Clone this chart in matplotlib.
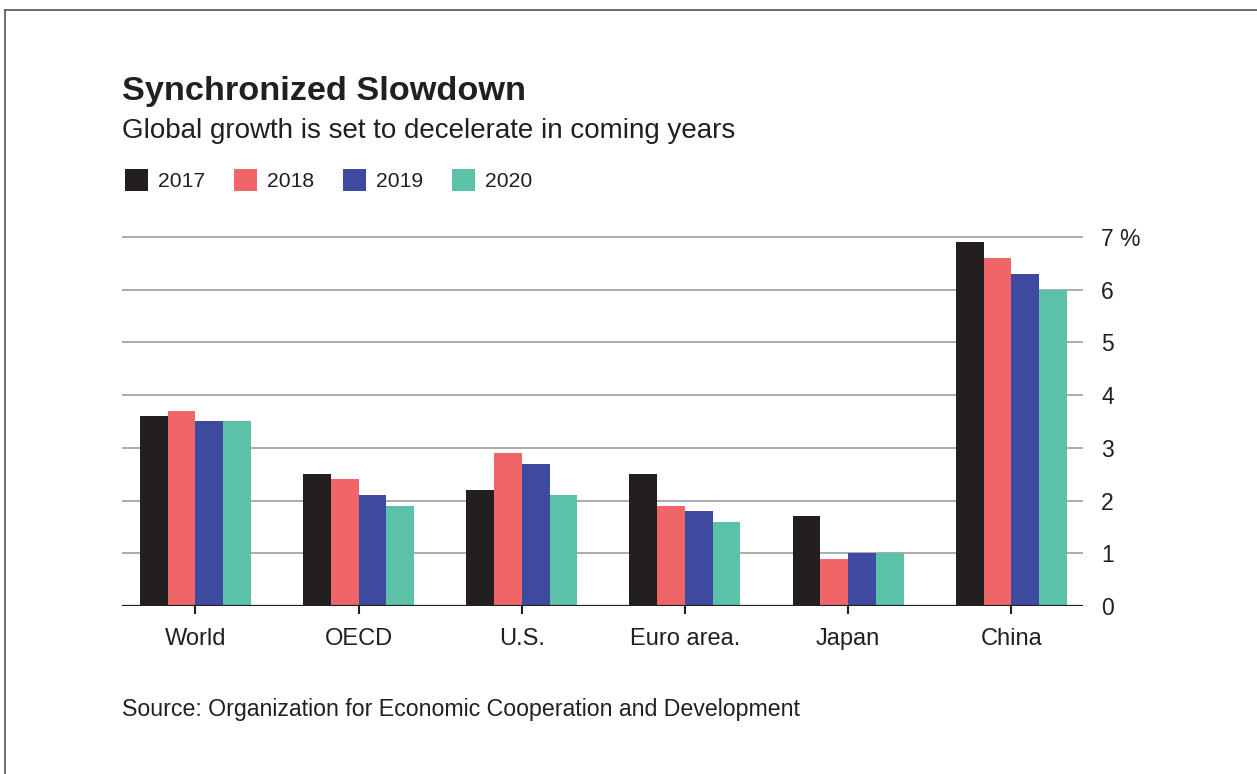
import matplotlib.pyplot as plt
import numpy as np
from matplotlib.lines import Line2D

plt.rcParams['font.family'] = ['Liberation Sans', 'DejaVu Sans']

regions = ['World', 'OECD', 'U.S.', 'Euro area.', 'Japan', 'China']
years = ['2017', '2018', '2019', '2020']
g2017 = [3.6, 2.5, 2.2, 2.5, 1.7, 6.9]
g2018 = [3.7, 2.4, 2.9, 1.9, 0.9, 6.6]
g2019 = [3.5, 2.1, 2.7, 1.8, 1.0, 6.3]
g2020 = [3.5, 1.9, 2.1, 1.6, 1.0, 6.0]
yticks = [0, 1, 2, 3, 4, 5, 6, 7]
ylabels = ['0', '1', '2', '3', '4', '5', '6', '7 %']

colors = ['#231f20', '#f06567', '#3e4a9f', '#5bc2a7']
series = [g2017, g2018, g2019, g2020]

fig = plt.figure(figsize=(12.57, 7.74), dpi=100)
ax = fig.add_axes([0.0971, 0.2171, 0.7645, 0.4801])

x = np.arange(len(regions))
w = 0.17
handles = []
for i, (vals, c, yr) in enumerate(zip(series, colors, years)):
    b = ax.bar(x + (i - 1.5) * w, vals, width=w, color=c, label=yr, zorder=2)
    handles.append(b)

ax.set_xlim(-0.45, 5.44)
ax.set_ylim(0, 7.05)
ax.set_yticks(yticks)
ax.set_yticklabels(ylabels)
ax.yaxis.tick_right()
ax.grid(axis='y', color='#939598', linewidth=1.1, zorder=0)
ax.set_axisbelow(True)
ax.axhline(0, color='#231f20', linewidth=1.6, zorder=3)
for s in ax.spines.values():
    s.set_visible(False)
ax.tick_params(axis='y', length=0, pad=13, labelsize=16.5, labelcolor='#231f20')
ax.set_xticks(x)
ax.set_xticklabels(regions)
ax.tick_params(axis='x', length=6, width=1.5, color='#231f20', direction='out',
               pad=10, labelsize=17, labelcolor='#231f20')

fig.text(0.0971, 0.8708, 'Synchronized Slowdown', fontsize=24.7, fontweight='bold',
         color='#231f20', va='baseline')
fig.text(0.0971, 0.8217, 'Global growth is set to decelerate in coming years',
         fontsize=20, color='#231f20', va='baseline')
fig.text(0.0971, 0.075, 'Source: Organization for Economic Cooperation and Development',
         fontsize=16.7, color='#231f20', va='baseline')

leg = fig.legend(handles=handles, labels=years, loc='upper left', ncol=4,
                 bbox_to_anchor=(0.0997, 0.782), frameon=False, fontsize=15.2,
                 handlelength=1.09, handleheight=1.25, handletextpad=0.47,
                 columnspacing=1.37, borderaxespad=0, borderpad=0)
for t in leg.get_texts():
    t.set_color('#231f20')

fig.add_artist(Line2D([0.004, 1.0], [0.987, 0.987], color='#555555', linewidth=1.2))
fig.add_artist(Line2D([0.004, 0.004], [0.0, 0.987], color='#555555', linewidth=1.2))

fig.savefig('out.png', dpi=100)
